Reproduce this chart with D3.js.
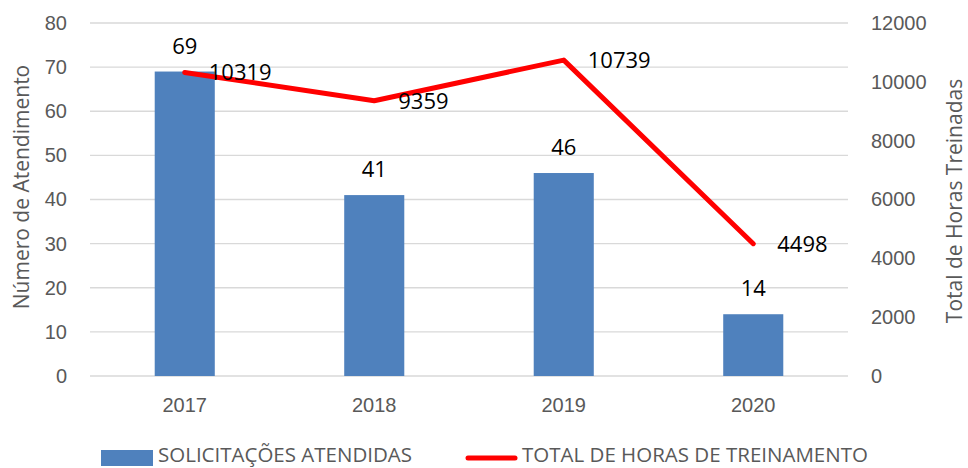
<!DOCTYPE html>
<html>
<head>
<meta charset="utf-8">
<script src="https://cdn.jsdelivr.net/npm/d3@7"></script>
<style>
  body { margin: 0; background: #fff; }
  svg { display: block; font-family: "Open Sans", "Noto Sans", sans-serif; }
</style>
</head>
<body>
<div id="chart"></div>
<script>
// Solicitações atendidas vs total de horas de treinamento

const years = ["2017", "2018", "2019", "2020"];
const solicitacoes = [69, 41, 46, 14];
const horas = [10319, 9359, 10739, 4498];
const leftTicks = [0, 10, 20, 30, 40, 50, 60, 70, 80];
const rightTicks = [0, 2000, 4000, 6000, 8000, 10000, 12000];

const WIDTH = 968;
const HEIGHT = 468;
const BAR_COLOR = "#4F81BD";
const LINE_COLOR = "#FF0000";
const AXIS_TEXT = "#595959";

const plot = { left: 90, right: 848, top: 23, bottom: 376 };

const svg = d3.select("#chart").append("svg")
  .attr("width", WIDTH)
  .attr("height", HEIGHT);

const x = d3.scaleBand().domain(years).range([plot.left, plot.right]).paddingInner(0).paddingOuter(0);
const yL = d3.scaleLinear().domain([0, 80]).range([plot.bottom, plot.top]);
const yR = d3.scaleLinear().domain([0, 12000]).range([plot.bottom, plot.top]);

// gridlines
svg.append("g")
  .selectAll("line")
  .data(leftTicks)
  .enter()
  .append("line")
  .attr("x1", plot.left)
  .attr("x2", plot.right)
  .attr("y1", d => yL(d))
  .attr("y2", d => yL(d))
  .attr("stroke", "#d9d9d9")
  .attr("stroke-width", 1.3);

// left axis
const leftAxis = svg.append("g")
  .attr("transform", `translate(${plot.left},0)`)
  .call(d3.axisLeft(yL).tickValues(leftTicks).tickSize(0).tickPadding(23));
leftAxis.select(".domain").remove();
leftAxis.selectAll("text").attr("fill", AXIS_TEXT).attr("font-size", 20);

// right axis
const rightAxis = svg.append("g")
  .attr("transform", `translate(${plot.right},0)`)
  .call(d3.axisRight(yR).tickValues(rightTicks).tickFormat(d3.format("d")).tickSize(0).tickPadding(23));
rightAxis.select(".domain").remove();
rightAxis.selectAll("text").attr("fill", AXIS_TEXT).attr("font-size", 20);

// bottom axis
const bottomAxis = svg.append("g")
  .attr("transform", `translate(0,${plot.bottom})`)
  .call(d3.axisBottom(x).tickSize(0).tickPadding(22));
bottomAxis.select(".domain").remove();
bottomAxis.selectAll("text").attr("fill", AXIS_TEXT).attr("font-size", 20);

// axis titles
svg.append("text")
  .attr("transform", "translate(29,187) rotate(-90)")
  .attr("text-anchor", "middle")
  .attr("fill", AXIS_TEXT)
  .attr("font-size", 21)
  .text("Número de Atendimento");

svg.append("text")
  .attr("transform", "translate(962,201) rotate(-90)")
  .attr("text-anchor", "middle")
  .attr("fill", AXIS_TEXT)
  .attr("font-size", 21)
  .text("Total de Horas Treinadas");

// bars
const barW = x.bandwidth() * 0.317;
svg.append("g")
  .selectAll("rect")
  .data(years)
  .enter()
  .append("rect")
  .attr("x", d => x(d) + x.bandwidth() / 2 - barW / 2)
  .attr("y", (d, i) => yL(solicitacoes[i]))
  .attr("width", barW)
  .attr("height", (d, i) => yL(0) - yL(solicitacoes[i]))
  .attr("fill", BAR_COLOR);

// bar labels
svg.append("g")
  .selectAll("text")
  .data(years)
  .enter()
  .append("text")
  .attr("x", d => x(d) + x.bandwidth() / 2)
  .attr("y", (d, i) => yL(solicitacoes[i]) - 18)
  .attr("text-anchor", "middle")
  .attr("font-size", 22)
  .attr("fill", "#000")
  .text((d, i) => solicitacoes[i]);

// line
const line = d3.line()
  .x(d => x(d.year) + x.bandwidth() / 2)
  .y(d => yR(d.value));
const lineData = years.map((year, i) => ({ year, value: horas[i] }));

svg.append("path")
  .datum(lineData)
  .attr("d", line)
  .attr("fill", "none")
  .attr("stroke", LINE_COLOR)
  .attr("stroke-width", 5)
  .attr("stroke-linejoin", "round")
  .attr("stroke-linecap", "round");

// line labels
svg.append("g")
  .selectAll("text")
  .data(lineData)
  .enter()
  .append("text")
  .attr("x", d => x(d.year) + x.bandwidth() / 2 + 24)
  .attr("y", d => yR(d.value) + 8)
  .attr("font-size", 22)
  .attr("fill", "#000")
  .text(d => d.value);

// legend
const legend = svg.append("g");
legend.append("rect")
  .attr("x", 101).attr("y", 450)
  .attr("width", 52).attr("height", 16)
  .attr("fill", BAR_COLOR);
legend.append("text")
  .attr("x", 158).attr("y", 462)
  .attr("font-size", 20.5)
  .attr("fill", AXIS_TEXT)
  .text("SOLICITAÇÕES ATENDIDAS");
legend.append("line")
  .attr("x1", 468).attr("x2", 515)
  .attr("y1", 458).attr("y2", 458)
  .attr("stroke", LINE_COLOR)
  .attr("stroke-width", 5)
  .attr("stroke-linecap", "round");
legend.append("text")
  .attr("x", 522).attr("y", 462)
  .attr("font-size", 20.5)
  .attr("fill", AXIS_TEXT)
  .text("TOTAL DE HORAS DE TREINAMENTO");
</script>
</body>
</html>
